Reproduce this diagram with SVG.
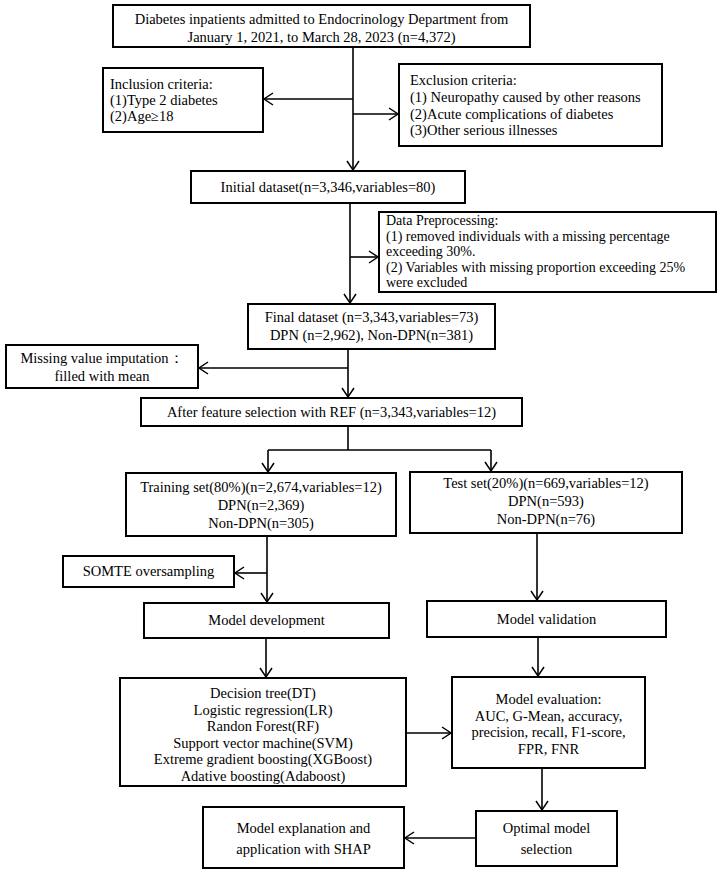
<svg xmlns="http://www.w3.org/2000/svg" width="720" height="871" viewBox="0 0 720 871">
<defs>
<marker id="arr" markerUnits="userSpaceOnUse" markerWidth="12" markerHeight="14" refX="10" refY="7" orient="auto">
<path d="M1,1 L10,7 L1,13" fill="none" stroke="#000" stroke-width="1.5"/>
</marker>
</defs>
<style>
.box{fill:#fff;stroke:#000;stroke-width:2}
.t{font-family:"Liberation Serif","Times New Roman",serif;font-size:14.5px;fill:#000}
.s{font-size:14px}
.c{text-anchor:middle}
.ln{fill:none;stroke:#000;stroke-width:1.6}
.ar{fill:none;stroke:#000;stroke-width:1.6;marker-end:url(#arr)}
</style>
<rect width="720" height="871" fill="#fff"/>
<g id="connectors">
<line class="ln" x1="353" y1="47" x2="353" y2="114"/>
<line class="ar" x1="353" y1="114" x2="353" y2="170"/>
<line class="ar" x1="353" y1="99" x2="264" y2="99"/>
<line class="ar" x1="353" y1="114" x2="398" y2="114"/>
<line class="ar" x1="350" y1="203" x2="350" y2="303"/>
<line class="ar" x1="350" y1="257" x2="378" y2="257"/>
<line class="ar" x1="348" y1="349" x2="348" y2="397"/>
<line class="ar" x1="348" y1="368" x2="199" y2="368"/>
<polyline class="ln" points="348,426 348,450"/>
<polyline class="ln" points="268,450 491,450"/>
<line class="ar" x1="268" y1="450" x2="268" y2="472"/>
<line class="ar" x1="491" y1="450" x2="491" y2="471"/>
<line class="ar" x1="267" y1="536" x2="267" y2="602"/>
<line class="ar" x1="267" y1="573" x2="235" y2="573"/>
<line class="ar" x1="537" y1="533" x2="537" y2="600"/>
<line class="ar" x1="266" y1="638" x2="266" y2="677"/>
<line class="ar" x1="538" y1="637" x2="538" y2="676"/>
<line class="ar" x1="406" y1="733" x2="451" y2="733"/>
<line class="ar" x1="542" y1="768" x2="542" y2="810"/>
<line class="ar" x1="476" y1="838" x2="405" y2="838"/>
</g>
<g id="n_top">
<rect class="box" x="113" y="5" width="417" height="42"/>
<text class="t c" x="321.5" y="24">Diabetes inpatients admitted to Endocrinology Department from</text>
<text class="t c" x="321.5" y="42">January 1, 2021, to March 28, 2023 (n=4,372)</text>
</g>
<g id="n_inclusion">
<rect class="box" x="103" y="68" width="160" height="64"/>
<text class="t" x="110" y="89">Inclusion criteria:</text>
<text class="t" x="110" y="105">(1)Type 2 diabetes</text>
<text class="t" x="110" y="121">(2)Age≥18</text>
</g>
<g id="n_exclusion">
<rect class="box" x="399" y="64" width="263" height="82"/>
<text class="t" x="410" y="85">Exclusion criteria:</text>
<text class="t" x="410" y="102">(1) Neuropathy caused by other reasons</text>
<text class="t" x="410" y="119">(2)Acute complications of diabetes</text>
<text class="t" x="410" y="135">(3)Other serious illnesses</text>
</g>
<g id="n_initial">
<rect class="box" x="191" y="171" width="274" height="32"/>
<text class="t c" x="328" y="192">Initial dataset(n=3,346,variables=80)</text>
</g>
<g id="n_preproc">
<rect class="box" x="379" y="212" width="337" height="80"/>
<text class="t s" x="386" y="225">Data Preprocessing:</text>
<text class="t s" x="386" y="240.5">(1) removed individuals with a missing percentage</text>
<text class="t s" x="386" y="256">exceeding 30%.</text>
<text class="t s" x="386" y="271.5">(2) Variables with missing proportion exceeding 25%</text>
<text class="t s" x="386" y="287">were excluded</text>
</g>
<g id="n_final">
<rect class="box" x="248" y="304" width="247" height="45"/>
<text class="t c" x="371.5" y="322">Final dataset (n=3,343,variables=73)</text>
<text class="t c" x="371.5" y="340">DPN (n=2,962), Non-DPN(n=381)</text>
</g>
<g id="n_missing">
<rect class="box" x="6" y="345" width="192" height="43"/>
<text class="t c" x="102" y="363">Missing value imputation：</text>
<text class="t c" x="102" y="381">filled with mean</text>
</g>
<g id="n_after">
<rect class="box" x="141" y="398" width="381" height="28"/>
<text class="t c" x="331.5" y="417">After feature selection with REF (n=3,343,variables=12)</text>
</g>
<g id="n_training">
<rect class="box" x="126" y="473" width="270" height="63"/>
<text class="t c" x="261" y="492">Training set(80%)(n=2,674,variables=12)</text>
<text class="t c" x="261" y="510">DPN(n=2,369)</text>
<text class="t c" x="261" y="528">Non-DPN(n=305)</text>
</g>
<g id="n_test">
<rect class="box" x="410" y="472" width="272" height="61"/>
<text class="t c" x="546" y="488">Test set(20%)(n=669,variables=12)</text>
<text class="t c" x="546" y="506">DPN(n=593)</text>
<text class="t c" x="546" y="524">Non-DPN(n=76)</text>
</g>
<g id="n_smote">
<rect class="box" x="63" y="556" width="171" height="31"/>
<text class="t c" x="148.5" y="576">SOMTE oversampling</text>
</g>
<g id="n_dev">
<rect class="box" x="144" y="603" width="245" height="35"/>
<text class="t c" x="266.5" y="625">Model development</text>
</g>
<g id="n_val">
<rect class="box" x="427" y="601" width="239" height="36"/>
<text class="t c" x="546.5" y="624">Model validation</text>
</g>
<g id="n_models">
<rect class="box" x="120" y="678" width="286" height="108"/>
<text class="t c" x="263" y="698">Decision tree(DT)</text>
<text class="t c" x="263" y="715">Logistic regression(LR)</text>
<text class="t c" x="263" y="731">Randon Forest(RF)</text>
<text class="t c" x="263" y="748">Support vector machine(SVM)</text>
<text class="t c" x="263" y="764">Extreme gradient boosting(XGBoost)</text>
<text class="t c" x="263" y="781">Adative boosting(Adaboost)</text>
</g>
<g id="n_eval">
<rect class="box" x="452" y="677" width="193" height="91"/>
<text class="t c" x="548.5" y="704">Model evaluation:</text>
<text class="t c" x="548.5" y="721">AUC, G-Mean, accuracy,</text>
<text class="t c" x="548.5" y="737">precision, recall, F1-score,</text>
<text class="t c" x="548.5" y="754">FPR, FNR</text>
</g>
<g id="n_explain">
<rect class="box" x="203" y="807" width="201" height="61"/>
<text class="t c" x="303.5" y="833">Model explanation and</text>
<text class="t c" x="303.5" y="854">application with SHAP</text>
</g>
<g id="n_optimal">
<rect class="box" x="476" y="811" width="141" height="55"/>
<text class="t c" x="546.5" y="833">Optimal model</text>
<text class="t c" x="546.5" y="854">selection</text>
</g>
</svg>
